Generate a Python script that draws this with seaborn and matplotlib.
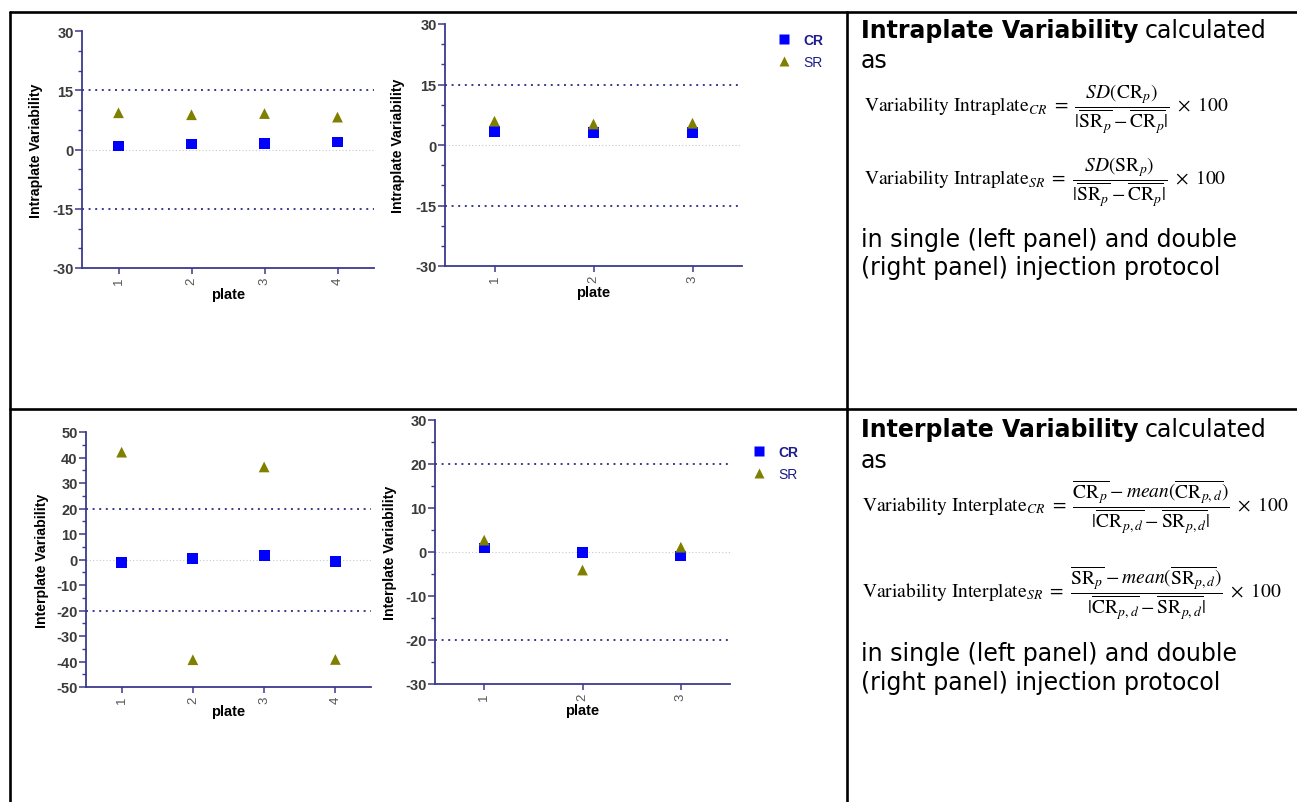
import pandas as pd
import numpy as np
import matplotlib
matplotlib.use("Agg")
import matplotlib.pyplot as plt
from matplotlib.lines import Line2D
from matplotlib.ticker import MultipleLocator
import seaborn as sns

# ── Data ────────────────────────────────────────────────────────────────────
plates_single = [1, 2, 3, 4]
plates_double = [1, 2, 3]

intra_single_cr = [0.9, 1.4, 1.6, 1.9]
intra_single_sr = [9.3, 8.8, 9.1, 8.2]
intra_double_cr = [3.4, 3.1, 3.1]
intra_double_sr = [5.9, 5.2, 5.4]

inter_single_cr = [-1.1, 0.5, 1.6, -0.8]
inter_single_sr = [42.1, -39.3, 36.3, -39.2]
inter_double_cr = [0.9, -0.15, -0.9]
inter_double_sr = [2.7, -4.1, 1.1]

# ── Style ───────────────────────────────────────────────────────────────────
sns.set_theme(style="white")
plt.rcParams["font.family"] = ["Liberation Sans", "DejaVu Sans"]
plt.rcParams["mathtext.fontset"] = "stix"
plt.rcParams["axes.unicode_minus"] = False

W, H = 1297, 803
NAVY = "#3a3a8e"
TICK_GREY = "#3a3a3a"
PAL = {"CR": "#0000ff", "SR": "#808000"}
MARKERS = {"CR": "s", "SR": "^"}

fig = plt.figure(figsize=(W / 100, H / 100), dpi=100)
fig.patch.set_facecolor("white")


def px_axes(x0, y0, x1, y1):
    return fig.add_axes([x0 / W, 1 - y1 / H, (x1 - x0) / W, (y1 - y0) / H])


def make_df(plates, cr, sr):
    return pd.DataFrame({
        "plate": plates * 2,
        "value": cr + sr,
        "series": ["CR"] * len(plates) + ["SR"] * len(plates),
    })


def panel(box, plates, cr, sr, ylim, major, minor, limit, ylabel,
          ylab_x, xlab_y, legend_xy=None):
    x0, y0, x1, y1 = box
    ax = px_axes(x0, y0, x1, y1)
    df = make_df(plates, cr, sr)
    ax.axhline(0, ls=(0, (1, 2)), color="#c8c8c8", lw=0.8, zorder=1)
    for v in (limit, -limit):
        ax.axhline(v, ls=(0, (1, 2.4)), color=NAVY, lw=1.4, zorder=1)
    sns.scatterplot(data=df, x="plate", y="value", hue="series", style="series",
                    palette=PAL, markers=MARKERS, s=60, edgecolor="none",
                    ax=ax, legend=legend_xy is not None, zorder=3)
    ax.set_xlim(0.5, len(plates) + 0.5)
    ax.set_ylim(*ylim)
    ax.set_xticks(plates)
    ax.set_xticklabels([str(p) for p in plates], rotation=90,
                       color="#555555", fontsize=9.5)
    ax.yaxis.set_major_locator(MultipleLocator(major))
    ax.yaxis.set_minor_locator(MultipleLocator(minor))
    for lab in ax.get_yticklabels():
        lab.set_fontweight("bold")
        lab.set_color(TICK_GREY)
        lab.set_fontsize(10.5)
    ax.tick_params(axis="y", which="major", left=True, length=5, width=1.1,
                   color=NAVY, pad=1)
    ax.tick_params(axis="y", which="minor", left=True, length=3, width=1.0,
                   color=NAVY)
    ax.tick_params(axis="x", which="major", bottom=True, length=4, width=1.1,
                   color=NAVY, pad=2)
    sns.despine(ax=ax)
    for sp in ("left", "bottom"):
        ax.spines[sp].set_color(NAVY)
        ax.spines[sp].set_linewidth(1.3)
    ax.set_facecolor("none")
    ax.set_ylabel(ylabel, fontsize=10.2, fontweight="bold", color="black")
    ax.set_xlabel("plate", fontsize=10.5, fontweight="bold", color="black")
    # ylabel anchor is its right edge, xlabel anchor is its top edge
    ax.yaxis.set_label_coords((ylab_x + 7 - x0) / (x1 - x0), 0.5)
    ax.xaxis.set_label_coords(0.5, (y1 - (xlab_y - 7)) / (y1 - y0))
    if legend_xy is not None:
        handles, labels = ax.get_legend_handles_labels()
        leg = ax.legend(handles, labels, loc="upper left",
                        bbox_to_anchor=(legend_xy[0] / W, 1 - legend_xy[1] / H),
                        bbox_transform=fig.transFigure, frameon=False,
                        fontsize=10, handletextpad=0.4, labelspacing=0.55,
                        markerscale=1.0, borderaxespad=0, borderpad=0)
        for t in leg.get_texts():
            t.set_color("#1c1c8c")
        leg.get_texts()[0].set_fontweight("bold")
    return ax


# ── Panels ──────────────────────────────────────────────────────────────────
panel((82, 32, 374, 269), plates_single, intra_single_cr, intra_single_sr,
      (-30, 30), 15, 5, 15, "Intraplate Variability", 36, 295)
panel((445, 25, 742, 267), plates_double, intra_double_cr, intra_double_sr,
      (-30, 30), 15, 5, 15, "Intraplate Variability", 398, 293,
      legend_xy=(770, 34))
panel((86, 433, 371, 688), plates_single, inter_single_cr, inter_single_sr,
      (-50, 50), 10, 5, 20, "Interplate Variability", 42, 712)
panel((435, 421, 730, 685), plates_double, inter_double_cr, inter_double_sr,
      (-30, 30), 10, 5, 20, "Interplate Variability", 390, 711,
      legend_xy=(745, 446))

# ── Table borders ───────────────────────────────────────────────────────────
def fig_line(xs, ys):
    fig.add_artist(Line2D([x / W for x in xs], [1 - y / H for y in ys],
                          color="black", lw=1.9, transform=fig.transFigure))

fig_line([10, W], [13, 13])
fig_line([10, 10], [13, H])
fig_line([847, 847], [13, H])
fig_line([10, W], [410, 410])

# ── Text column ─────────────────────────────────────────────────────────────
TXT = ["DejaVu Sans"]
TX = 861
TSIZE = 17
FSIZE = 14
fig.canvas.draw()
renderer = fig.canvas.get_renderer()


def title_line(y, bold_part, rest):
    t = fig.text(TX / W, 1 - y / H, bold_part, fontsize=TSIZE, fontweight="bold",
                 family=TXT, va="center", ha="left", color="black")
    bb = t.get_window_extent(renderer=renderer)
    fig.text((bb.x1 + 6) / W, 1 - y / H, rest, fontsize=TSIZE, family=TXT,
             va="center", ha="left", color="black")


def plain(y, s, size=TSIZE, family=TXT, x=TX):
    fig.text(x / W, 1 - y / H, s, fontsize=size, family=family,
             va="center", ha="left", color="black")


title_line(31, "Intraplate Variability", "calculated")
plain(61, "as")
plain(110, r"$\mathrm{Variability\ Intraplate}_{CR}\ =\ "
           r"\dfrac{SD(\mathrm{CR}_p)}{|\overline{\mathrm{SR}_p}-\overline{\mathrm{CR}_p}|}"
           r"\ \times\ 100$", size=FSIZE, x=864)
plain(183, r"$\mathrm{Variability\ Intraplate}_{SR}\ =\ "
           r"\dfrac{SD(\mathrm{SR}_p)}{|\overline{\mathrm{SR}_p}-\overline{\mathrm{CR}_p}|}"
           r"\ \times\ 100$", size=FSIZE, x=864)
plain(240, "in single (left panel) and double")
plain(268, "(right panel) injection protocol")

title_line(430, "Interplate Variability", "calculated")
plain(461, "as")
plain(507, r"$\mathrm{Variability\ Interplate}_{CR}\ =\ "
           r"\dfrac{\overline{\mathrm{CR}_p}-mean(\overline{\mathrm{CR}_{p,d}})}"
           r"{|\overline{\mathrm{CR}_{p,d}}-\overline{\mathrm{SR}_{p,d}}|}"
           r"\ \times\ 100$", size=FSIZE, x=862)
plain(593, r"$\mathrm{Variability\ Interplate}_{SR}\ =\ "
           r"\dfrac{\overline{\mathrm{SR}_p}-mean(\overline{\mathrm{SR}_{p,d}})}"
           r"{|\overline{\mathrm{CR}_{p,d}}-\overline{\mathrm{SR}_{p,d}}|}"
           r"\ \times\ 100$", size=FSIZE, x=862)
plain(654, "in single (left panel) and double")
plain(683, "(right panel) injection protocol")

fig.savefig("out.png", dpi=100, facecolor="white")
